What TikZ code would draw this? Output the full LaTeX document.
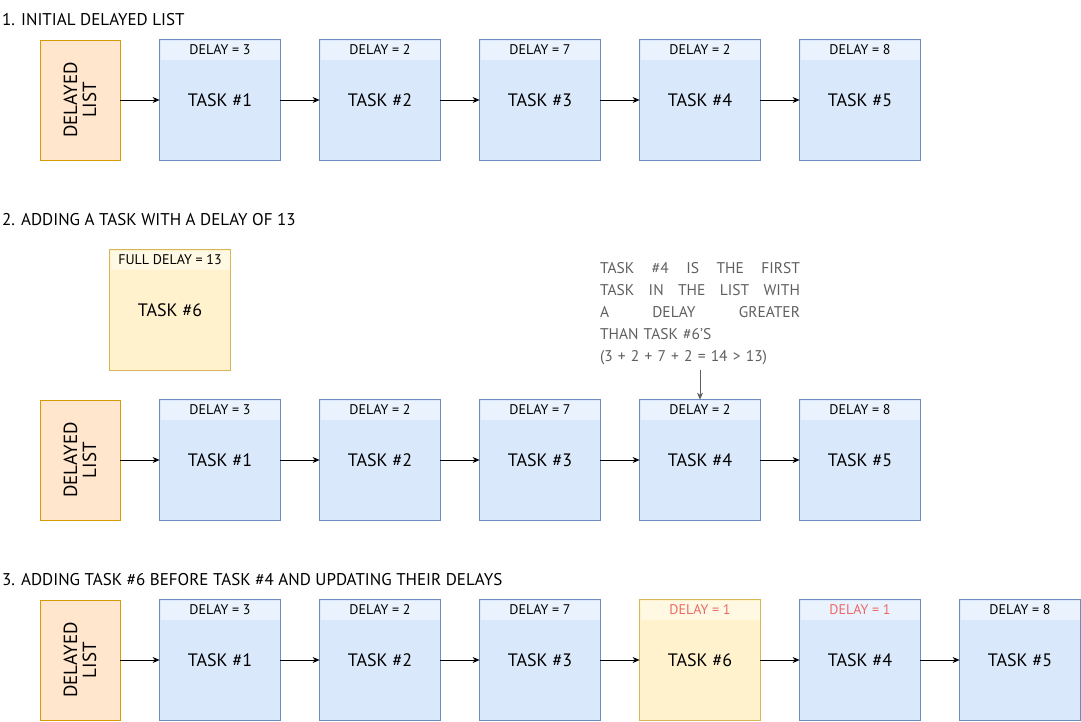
\documentclass[tikz,border=0pt]{standalone}
\usepackage{fontspec}
\setmainfont{PT Sans}
\usetikzlibrary{arrows.meta}
\definecolor{obord}{HTML}{D79B00}
\definecolor{ofill}{HTML}{FFE6CC}
\definecolor{bbord}{HTML}{6C8EBF}
\definecolor{bfill}{HTML}{DAE8FC}
\definecolor{bhead}{HTML}{EAF2FE}
\definecolor{ybord}{HTML}{D6B656}
\definecolor{yfill}{HTML}{FFF2CC}
\definecolor{yhead}{HTML}{FFF8E3}
\definecolor{redtxt}{HTML}{EA6B66}
\definecolor{notegray}{HTML}{5F5F5F}
\tikzset{
  taskbody/.style={rectangle, minimum width=120pt, minimum height=120pt, inner sep=0pt, font=\fontsize{18}{20}\selectfont, line width=0.8pt},
  taskhead/.style={rectangle, minimum width=119pt, minimum height=19pt, inner sep=0pt, font=\fontsize{14}{15}\selectfont},
  listbox/.style={rectangle, minimum width=80pt, minimum height=120pt, inner sep=0pt, draw=obord, fill=ofill, line width=0.8pt},
  listtext/.style={rotate=90, align=center, font=\fontsize{19}{19}\selectfont},
  link/.style={-{Stealth[length=7pt,width=6pt]}, line width=0.7pt},
  rowtitle/.style={anchor=west, inner sep=0pt, font=\fontsize{17}{18}\selectfont},
}
% name, left x, top y, fill, headfill, border, header text, body text
\newcommand\tbox[8]{%
  \node[taskbody, fill=#4] (#1) at (#2+60,#3+60) {#8};
  \node[taskhead, fill=#5] (#1h) at (#2+60,#3+10) {#7};
  \draw[#6, line width=0.8pt] (#1.north west) rectangle (#1.south east);
}
\begin{document}
\begin{tikzpicture}[x=1pt,y=-1pt]
\useasboundingbox (0,0) rectangle (1081,721);

% Row 1
\node[rowtitle] (title1) at (2,20) {1. INITIAL DELAYED LIST};
\node[listbox] (dl1) at (80,100) {};
\node[listtext] (dl1t) at (80,100) {DELAYED\\LIST};
\tbox{t11}{160}{40}{bfill}{bhead}{bbord}{DELAY = 3}{TASK \#1}
\tbox{t12}{320}{40}{bfill}{bhead}{bbord}{DELAY = 2}{TASK \#2}
\tbox{t13}{480}{40}{bfill}{bhead}{bbord}{DELAY = 7}{TASK \#3}
\tbox{t14}{640}{40}{bfill}{bhead}{bbord}{DELAY = 2}{TASK \#4}
\tbox{t15}{800}{40}{bfill}{bhead}{bbord}{DELAY = 8}{TASK \#5}
\draw[link] (dl1) -- (t11);
\draw[link] (t11) -- (t12);
\draw[link] (t12) -- (t13);
\draw[link] (t13) -- (t14);
\draw[link] (t14) -- (t15);

% Row 2
\node[rowtitle] (title2) at (2,220) {2. ADDING A TASK WITH A DELAY OF 13};
\tbox{t26}{110}{250}{yfill}{yhead}{ybord}{FULL DELAY = 13}{TASK \#6}
\node[anchor=north, inner sep=0pt, text=notegray, font=\fontsize{15.5}{22}\selectfont, align=left, text width=200pt] (note) at (700,262) {%
\leavevmode\hbox to 200pt{TASK\hfill \#4\hfill IS\hfill THE\hfill FIRST}\\
\leavevmode\hbox to 200pt{TASK\hfill IN\hfill THE\hfill LIST\hfill WITH}\\
\leavevmode\hbox to 200pt{A\hfill DELAY\hfill GREATER}\\
THAN TASK \#6'S\\
(3 + 2 + 7 + 2 = 14 > 13)};
\node[listbox] (dl2) at (80,460) {};
\node[listtext] (dl2t) at (80,460) {DELAYED\\LIST};
\tbox{t21}{160}{400}{bfill}{bhead}{bbord}{DELAY = 3}{TASK \#1}
\tbox{t22}{320}{400}{bfill}{bhead}{bbord}{DELAY = 2}{TASK \#2}
\tbox{t23}{480}{400}{bfill}{bhead}{bbord}{DELAY = 7}{TASK \#3}
\tbox{t24}{640}{400}{bfill}{bhead}{bbord}{DELAY = 2}{TASK \#4}
\tbox{t25}{800}{400}{bfill}{bhead}{bbord}{DELAY = 8}{TASK \#5}
\draw[link] (dl2) -- (t21);
\draw[link] (t21) -- (t22);
\draw[link] (t22) -- (t23);
\draw[link] (t23) -- (t24);
\draw[link] (t24) -- (t25);
\coordinate (notefoot) at (700,370);
\draw[-{Stealth[length=7pt,width=6pt]}, line width=0.7pt, notegray] (notefoot) -- (t24.north);

% Row 3
\node[rowtitle] (title3) at (2,580) {3. ADDING TASK \#6 BEFORE TASK \#4 AND UPDATING THEIR DELAYS};
\node[listbox] (dl3) at (80,660) {};
\node[listtext] (dl3t) at (80,660) {DELAYED\\LIST};
\tbox{t31}{160}{600}{bfill}{bhead}{bbord}{DELAY = 3}{TASK \#1}
\tbox{t32}{320}{600}{bfill}{bhead}{bbord}{DELAY = 2}{TASK \#2}
\tbox{t33}{480}{600}{bfill}{bhead}{bbord}{DELAY = 7}{TASK \#3}
\tbox{t36}{640}{600}{yfill}{yhead}{ybord}{\textcolor{redtxt}{DELAY = 1}}{TASK \#6}
\tbox{t34}{800}{600}{bfill}{bhead}{bbord}{\textcolor{redtxt}{DELAY = 1}}{TASK \#4}
\tbox{t35}{960}{600}{bfill}{bhead}{bbord}{DELAY = 8}{TASK \#5}
\draw[link] (dl3) -- (t31);
\draw[link] (t31) -- (t32);
\draw[link] (t32) -- (t33);
\draw[link] (t33) -- (t36);
\draw[link] (t36) -- (t34);
\draw[link] (t34) -- (t35);
\end{tikzpicture}
\end{document}
